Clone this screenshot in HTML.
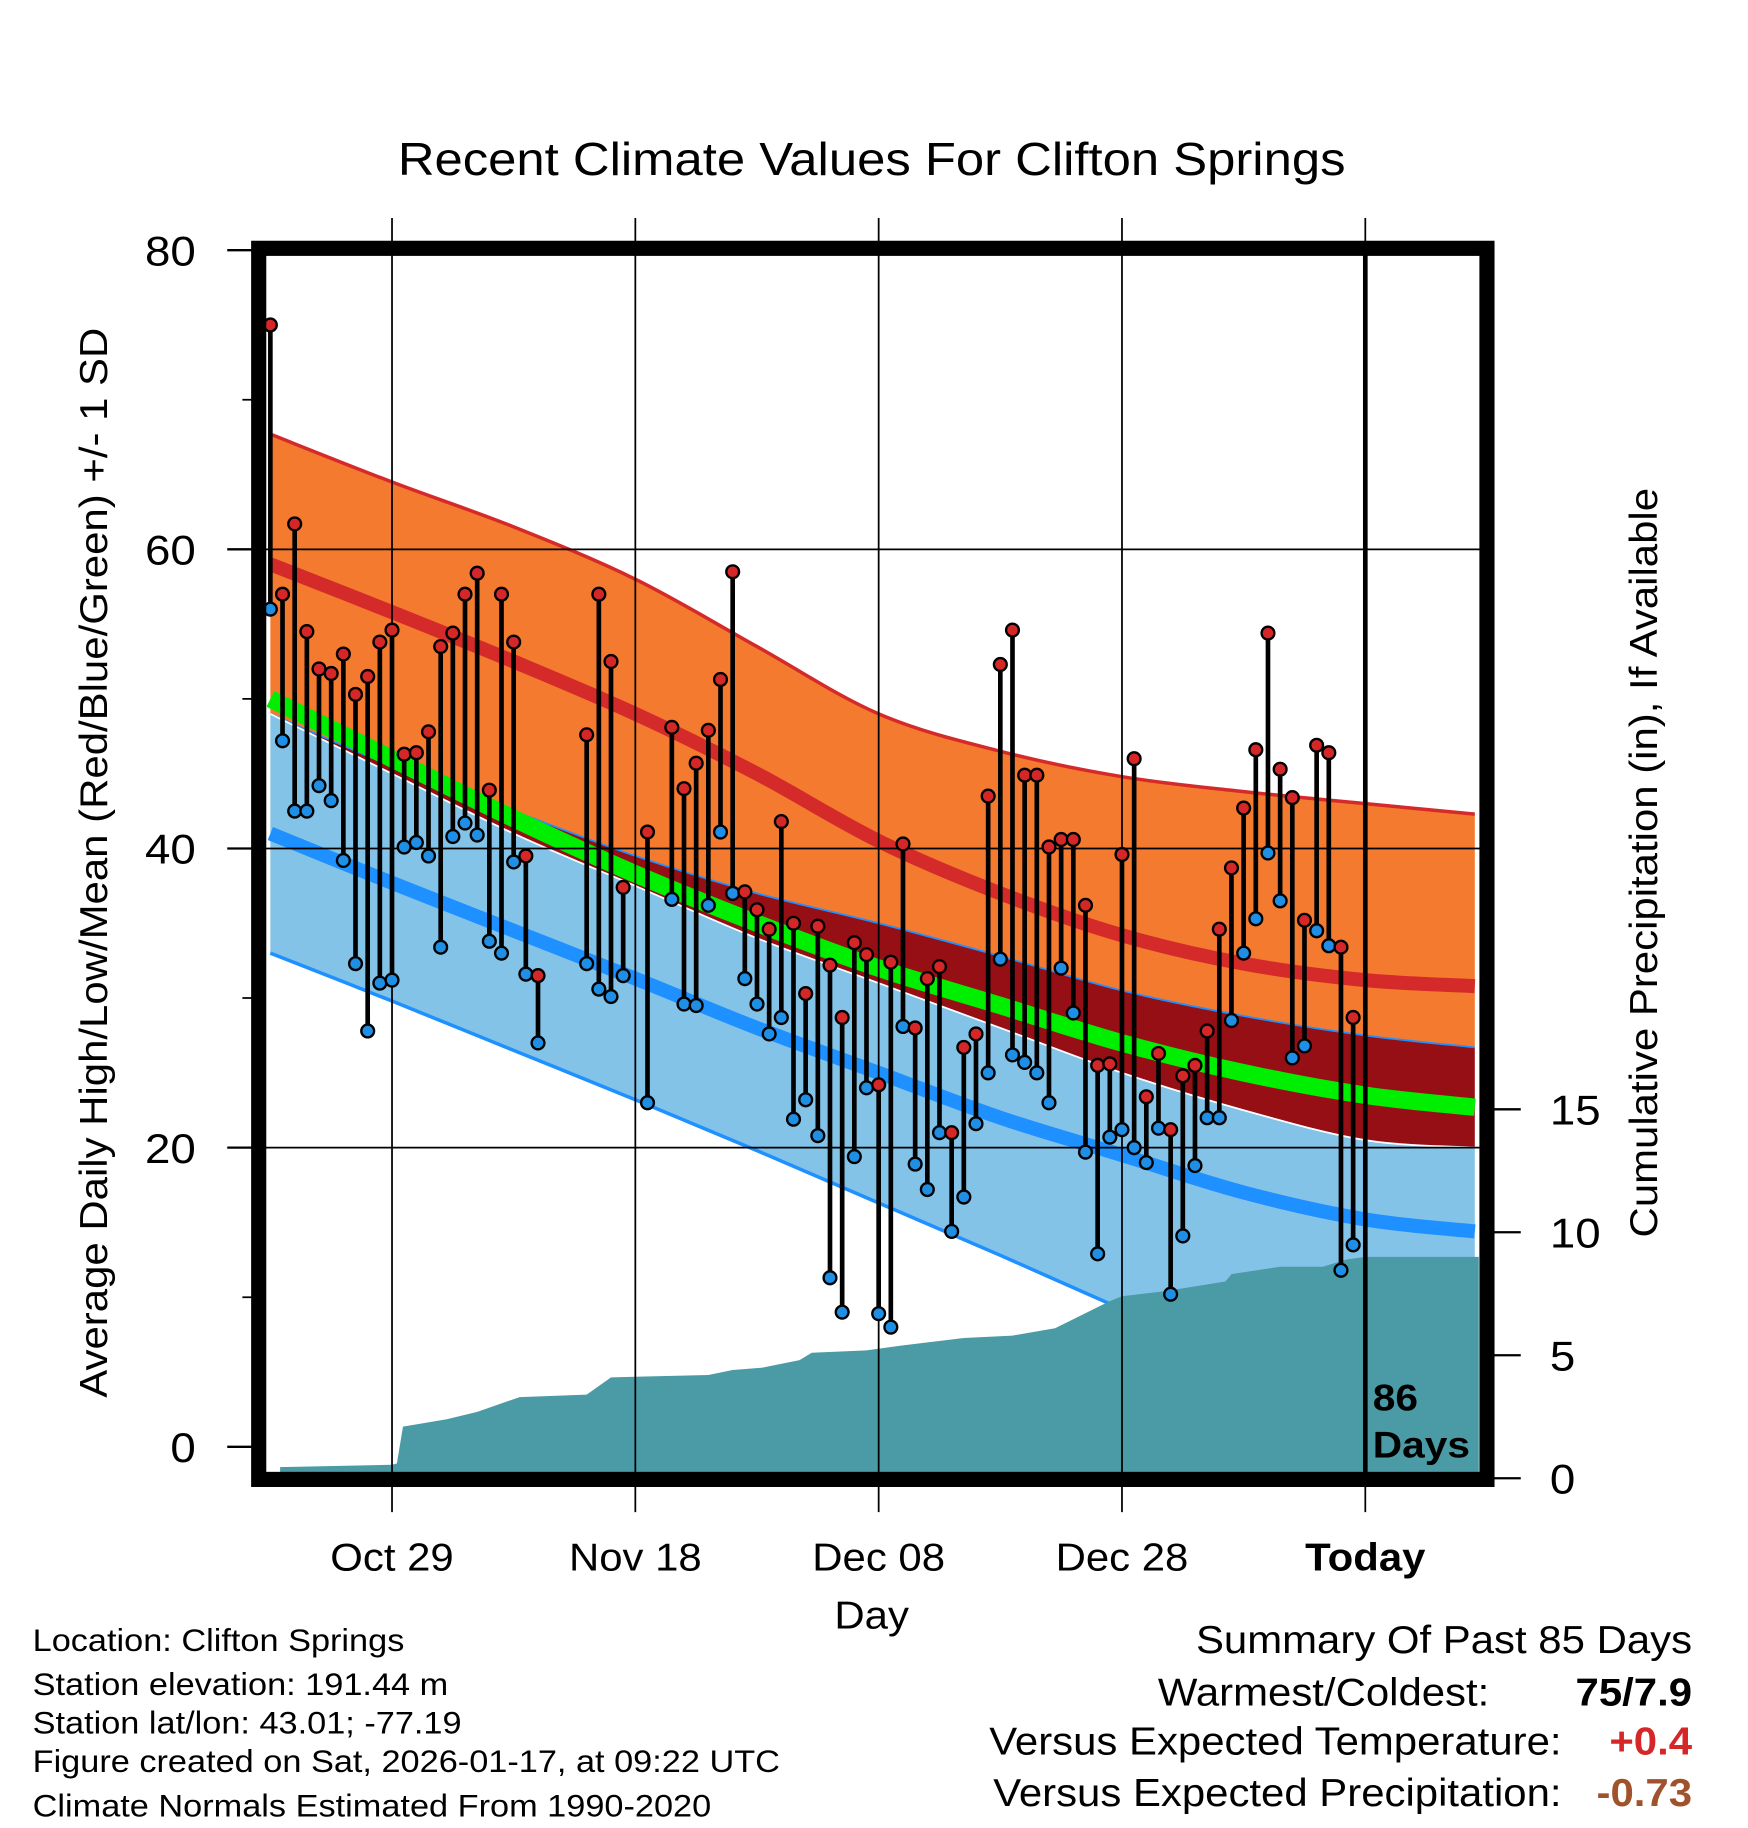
<!DOCTYPE html>
<html><head><meta charset="utf-8"><style>
html,body{margin:0;padding:0;background:#fff}
svg{display:block;font-family:"Liberation Sans",Arial,sans-serif}
</style></head><body>
<svg id="chart" width="1748" height="1828" viewBox="0 0 1500 1568" preserveAspectRatio="none" xmlns="http://www.w3.org/2000/svg">
<defs><clipPath id="pc"><rect x="229" y="219" width="1040" height="1044"/></clipPath></defs>
<g id="bands" clip-path="url(#pc)"></g>
<g id="precip" clip-path="url(#pc)"></g>
<g id="grid"></g>
<g id="marks"></g>
<g id="axes"></g>
<text x="748" y="150" font-size="40" text-anchor="middle">Recent Climate Values For Clifton Springs</text>
<text transform="translate(92,740) rotate(-90)" font-size="33" text-anchor="middle">Average Daily High/Low/Mean (Red/Blue/Green) +/- 1 SD</text>
<text transform="translate(1422,740) rotate(-90)" font-size="33" text-anchor="middle">Cumulative Precipitation (in), If Available</text>
<text x="748" y="1397" font-size="33" text-anchor="middle">Day</text>
<text x="1178" y="1210" font-size="32" font-weight="bold">86</text>
<text x="1178" y="1250" font-size="32" font-weight="bold">Days</text>
<g font-size="27">
<text x="28" y="1416">Location: Clifton Springs</text>
<text x="28" y="1454">Station elevation: 191.44 m</text>
<text x="28" y="1487">Station lat/lon: 43.01; -77.19</text>
<text x="28" y="1520">Figure created on Sat, 2026-01-17, at 09:22 UTC</text>
<text x="28" y="1558">Climate Normals Estimated From 1990-2020</text>
</g>
<g font-size="33">
<text x="1452" y="1418" text-anchor="end">Summary Of Past 85 Days</text>
<text x="1278" y="1463" text-anchor="end">Warmest/Coldest:</text>
<text x="1452" y="1463" text-anchor="end" font-weight="bold">75/7.9</text>
<text x="1340" y="1505" text-anchor="end">Versus Expected Temperature:</text>
<text x="1452" y="1505" text-anchor="end" font-weight="bold" fill="#d62728">+0.4</text>
<text x="1340" y="1549" text-anchor="end">Versus Expected Precipitation:</text>
<text x="1452" y="1549" text-anchor="end" font-weight="bold" fill="#a0522d">-0.73</text>
</g>
</svg>
<script>
const normDays=[0,10,20,30,40,50,60,70,80,90,99];
const highPlusSD=[67.7,64.5,61.5,58,53.5,49,46.5,44.8,43.8,43,42.3];
const highMean=[59,55.8,52.5,49,45,40.5,37,34.2,32.3,31.2,30.8];
const highMinusSD=[49,45.5,42.5,39.5,37,35,32.8,30.5,28.8,27.5,26.7];
const meanNorm=[50,46,42,38.3,35,32,29.5,27,25,23.5,22.7];
const lowPlusSD=[49,45,41,37.5,34,31,28,25,22.5,20.5,20];
const lowMean=[41,37.7,34.5,31.3,28,25,22,19.5,17,15.2,14.4];
const lowMinusSD=[33,29.8,26.5,23.2,19.8,16.3,12.8,9.2,5.7,2.2,-1];
const highs=[75,57,61.7,54.5,52,51.7,53,50.3,51.5,53.8,54.6,46.3,46.4,47.8,53.5,54.4,57,58.4,43.9,57,53.8,39.5,31.5,null,null,null,47.6,57,52.5,37.4,null,41.1,null,48.1,44,45.7,47.9,51.3,58.5,37.1,35.9,34.6,41.8,35,30.3,34.8,32.2,28.7,33.7,32.9,24.2,32.4,40.3,28,31.3,32.1,21,26.7,27.6,43.5,52.3,54.6,44.9,44.9,40.1,40.6,40.6,36.2,25.5,25.6,39.6,46,23.4,26.3,21.2,24.8,25.5,27.8,34.6,38.7,42.7,46.6,54.4,45.3,43.4,35.2,46.9,46.4,33.4,28.7];
const lows=[56,47.2,42.5,42.5,44.2,43.2,39.2,32.3,27.8,31,31.2,40.1,40.4,39.5,33.4,40.8,41.7,40.9,33.8,33,39.1,31.6,27,null,null,null,32.3,30.6,30.1,31.5,null,23,null,36.6,29.6,29.5,36.2,41.1,37,31.3,29.6,27.6,28.7,21.9,23.2,20.8,11.3,9,19.4,24,8.9,8,28.1,18.9,17.2,21,14.4,16.7,21.6,25,32.6,26.2,25.7,25,23,32,29,19.7,12.9,20.7,21.2,20,19,21.3,10.2,14.1,18.8,22,22,28.5,33,35.3,39.7,36.5,26,26.8,34.5,33.5,11.8,13.5];
const precipDays=[0.8,10,10.4,10.9,14.5,17,20.5,26,28,36,38,40.5,43.5,44.5,49,52,57,61,64.5,69,70,73.5,78.5,79,83,86.5,88.5,90,99.5];
const precipVals=[0.45,0.55,0.6,2.1,2.4,2.7,3.3,3.4,4.1,4.2,4.4,4.5,4.8,5.1,5.2,5.4,5.7,5.8,6.1,7.2,7.4,7.6,8.0,8.3,8.6,8.6,8.9,9.0,9.0];
const xTickDays=[10,30,50,70,90];
const xTickLabels=["Oct 29","Nov 18","Dec 08","Dec 28","Today"];
const yTicks=[0,20,40,60,80];
const y2Ticks=[0,5,10,15];

const NS="http://www.w3.org/2000/svg";
const X=d=>232+10.44*d;
const Y=v=>1241-v*12.83;
const YP=p=>1268-p*21.1;
function mk(tag,attrs,parent){const e=document.createElementNS(NS,tag);for(const k in attrs)e.setAttribute(k,attrs[k]);document.getElementById(parent).appendChild(e);return e;}
function P(arr){return normDays.map((d,i)=>[X(d),Y(arr[i])]);}
function smooth(p,move){let s=(move?"M":"L")+p[0][0]+","+p[0][1];
for(let i=0;i<p.length-1;i++){const p0=p[i-1]||p[i],p1=p[i],p2=p[i+1],p3=p[i+2]||p2;
const c1=[p1[0]+(p2[0]-p0[0])/6,p1[1]+(p2[1]-p0[1])/6],c2=[p2[0]-(p3[0]-p1[0])/6,p2[1]-(p3[1]-p1[1])/6];
s+=" C"+c1.join(",")+" "+c2.join(",")+" "+p2.join(",");}return s;}
function band(top,bot,fill,name){const d=smooth(P(top),true)+" "+smooth(P(bot).reverse(),false)+" Z";const e=mk('path',{d:d,fill:fill},'bands');

}
function line(arr,stroke,w,name){const e=mk('path',{d:smooth(P(arr),true),fill:'none',stroke:stroke,'stroke-width':w},'bands');

}
band(highPlusSD,highMinusSD,'#f37a2e','high-sd-band');
band(highMinusSD,lowPlusSD,'#950f14','overlap-band');
band(lowPlusSD,lowMinusSD,'#83c3e8','low-sd-band');
line(highPlusSD,'#d42a2a',3,'high-plus-sd-line');
line(highMinusSD,'#1e90ff',1.5,'high-minus-sd-line');
line(lowPlusSD,'#ffffff',1.5,'low-plus-sd-line');
line(lowMinusSD,'#1e90ff',3,'low-minus-sd-line');
line(highMean,'#d42a2a',12,'normal-high-line');
line(lowMean,'#1e90ff',12,'normal-low-line');
line(meanNorm,'#00ee00',15,'normal-mean-line');
// precip area
let pp=[X(precipDays[0])+","+YP(0)];
for(let i=0;i<precipDays.length;i++){pp.push(X(precipDays[i])+","+YP(precipVals[i]));}
pp.push("1270,"+YP(precipVals[precipVals.length-1]));
pp.push("1270,"+YP(0));
const pa=mk('polygon',{points:pp.join(' '),fill:'#4a9ba5'},'precip');


// grid
xTickDays.forEach((d,i)=>{const g=mk('line',{x1:X(d),x2:X(d),y1:187,y2:1297,stroke:'#000','stroke-width':1.5},'grid');


const t=mk('text',{x:X(d),y:1347,'font-size':33,'text-anchor':'middle','font-weight':xTickLabels[i]==='Today'?'bold':'normal'},'axes');t.textContent=xTickLabels[i];

});
yTicks.forEach(v=>{if(v>0&&v<80){const g=mk('line',{x1:222,x2:1276,y1:Y(v),y2:Y(v),stroke:'#000','stroke-width':1.5},'grid');

}
const tk=mk('line',{x1:195,x2:222,y1:Y(v),y2:Y(v),stroke:'#000','stroke-width':2},'axes');


const t=mk('text',{x:168,y:Y(v)+13,'font-size':36,'text-anchor':'end'},'axes');t.textContent=v;

});
[10,30,50,70].forEach(v=>{const tk=mk('line',{x1:208,x2:222,y1:Y(v),y2:Y(v),stroke:'#000','stroke-width':1.5},'axes');

});
y2Ticks.forEach(v=>{const tk=mk('line',{x1:1276,x2:1305,y1:YP(v),y2:YP(v),stroke:'#000','stroke-width':2},'axes');


const t=mk('text',{x:1330,y:YP(v)+13,'font-size':36},'axes');t.textContent=v;

});
// today line
const tl=mk('line',{x1:X(90),x2:X(90),y1:213,y2:1269,stroke:'#000','stroke-width':4},'axes');


// daily marks
highs.forEach((h,d)=>{const l=lows[d];if(h==null||l==null)return;
const s=mk('line',{x1:X(d),x2:X(d),y1:Y(h),y2:Y(l),stroke:'#000','stroke-width':4},'marks');


const c1=mk('circle',{cx:X(d),cy:Y(h),r:5.5,fill:'#d62728',stroke:'#000','stroke-width':2},'marks');


const c2=mk('circle',{cx:X(d),cy:Y(l),r:5.5,fill:'#1f8fe6',stroke:'#000','stroke-width':2},'marks');

});
// frame
const fr=mk('rect',{x:222,y:213,width:1054,height:1056,fill:'none',stroke:'#000','stroke-width':13},'axes');


// widen text to match Helvetica-like metrics
document.querySelectorAll('#chart text').forEach(t=>{const w=t.getComputedTextLength();if(w>0){t.setAttribute('textLength',(w*1.09).toFixed(1));t.setAttribute('lengthAdjust','spacingAndGlyphs');}});
</script>
</body></html>
